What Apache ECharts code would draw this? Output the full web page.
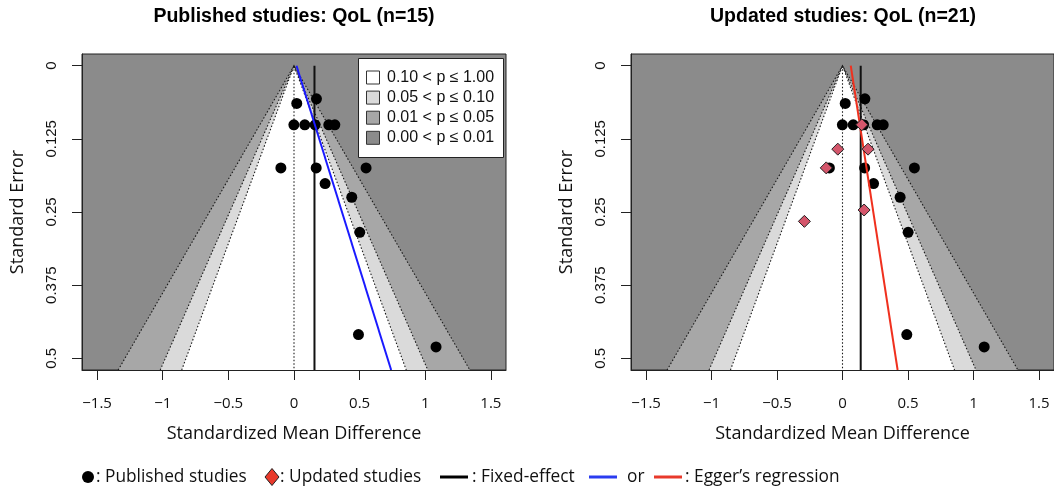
<!DOCTYPE html>
<html><head><meta charset="utf-8">
<script src="https://cdn.jsdelivr.net/npm/echarts@6/dist/echarts.min.js"></script>
<style>html,body{margin:0;padding:0;background:#fff}#c{width:1054px;height:490px}</style>
</head><body><div id="c"></div>
<script>
// ---------------- data ----------------
const publishedSMD = [0.171, 0.021, -0.001, 0.082, 0.161, 0.265, 0.311, -0.100, 0.169, 0.549, 0.237, 0.440, 0.501, 0.491, 1.082];
const publishedSE  = [0.0565, 0.0644, 0.101, 0.101, 0.101, 0.101, 0.101, 0.1746, 0.1746, 0.1746, 0.2014, 0.2248, 0.2848, 0.4594, 0.4805];
const updatedSMD = [0.147, -0.036, 0.195, -0.124, 0.165, -0.291];
const updatedSE  = [0.101, 0.1426, 0.1426, 0.1746, 0.2466, 0.266];
const fixedEffect = [0.156, 0.139];              // published panel, updated panel
const eggerPublished = [[0.019, 0], [0.740, 0.52]];
const eggerUpdated   = [[0.063, 0], [0.421, 0.52]];
const contourZ = [2.576, 1.960, 1.645];           // p = 0.01, 0.05, 0.10 (two-sided)
const contourLabels = ['0.10 < p \u2264 1.00', '0.05 < p \u2264 0.10', '0.01 < p \u2264 0.05', '0.00 < p \u2264 0.01'];
const xTickValues = [-1.5, -1, -0.5, 0, 0.5, 1, 1.5];
const xTickLabels = ['\u22121.5', '\u22121', '\u22120.5', '0', '0.5', '1', '1.5'];
const yTickValues = [0, 0.125, 0.25, 0.375, 0.5];
const yTickLabels = ['0', '0.125', '0.25', '0.375', '0.5'];
const titles = ['Published studies: QoL (n=15)', 'Updated studies: QoL (n=21)'];
const xTitle = 'Standardized Mean Difference';
const yTitle = 'Standard Error';
const legendItems = [': Published studies', ': Updated studies', ': Fixed-effect', 'or', ': Egger\u2019s regression'];

// ---------------- styles / layout ----------------
const X_MIN = -1.615, X_MAX = 1.615, Y_MIN = -0.02, Y_MAX = 0.52;
const BG_DARK = '#8b8b8b';
const contourFill = ['#a7a7a7', '#dadada', '#ffffff'];
const legendFill = ['#ffffff', '#dadada', '#a7a7a7', '#8b8b8b'];
const EGGER_BLUE = '#1a1aff', EGGER_RED = '#f0301e', DIAMOND = '#d4566b';
const sansFont = '"Open Sans", "Liberation Sans", sans-serif';
const helv = '"Liberation Sans", Arial, sans-serif';

function labelFor(values, labels) {
  return v => { for (let i = 0; i < values.length; i++) if (Math.abs(values[i] - v) < 1e-9) return labels[i]; return ''; };
}

const chart = echarts.init(document.getElementById('c'), null, {renderer: 'canvas'});
const grids = [
  {left: 82, top: 54, width: 424, height: 316},
  {left: 631, top: 54, width: 424, height: 316}
];

function xAxisFor(i) {
  return {
    gridIndex: i, type: 'value', min: X_MIN, max: X_MAX, z: 10,
    splitLine: {show: false},
    axisLine: {show: true, onZero: false, lineStyle: {color: '#222', width: 1}},
    axisTick: {show: true, customValues: xTickValues, length: 10, lineStyle: {color: '#222', width: 1}},
    axisLabel: {show: true, customValues: xTickValues, margin: 26, formatter: labelFor(xTickValues, xTickLabels),
      fontFamily: sansFont, fontSize: 15, color: '#111'},
    name: xTitle, nameLocation: 'middle', nameGap: 55,
    nameTextStyle: {fontFamily: sansFont, fontSize: 18, color: '#111'}
  };
}
function yAxisFor(i) {
  return {
    gridIndex: i, type: 'value', inverse: true, min: Y_MIN, max: Y_MAX, z: 10,
    splitLine: {show: false},
    axisLine: {show: true, onZero: false, lineStyle: {color: '#222', width: 1}},
    axisTick: {show: true, customValues: yTickValues, length: 10, lineStyle: {color: '#222', width: 1}},
    axisLabel: {show: true, customValues: yTickValues, rotate: 90, margin: 23, formatter: labelFor(yTickValues, yTickLabels),
      fontFamily: helv, fontSize: 15, color: '#111'},
    name: yTitle, nameLocation: 'middle', nameGap: 55,
    nameTextStyle: {fontFamily: sansFont, fontSize: 18, color: '#111'}
  };
}

function contourSeries(i) {
  return {
    type: 'custom', xAxisIndex: i, yAxisIndex: i, z: 1, silent: true, clip: true,
    data: contourZ.map((z, k) => [z, k]),
    renderItem: (params, api) => {
      const z = api.value(0), k = api.value(1);
      const apex = api.coord([0, 0]);
      const bl = api.coord([-z * Y_MAX, Y_MAX]);
      const br = api.coord([z * Y_MAX, Y_MAX]);
      return {
        type: 'group',
        children: [
          {type: 'polygon', shape: {points: [apex, bl, br]}, style: {fill: contourFill[k], stroke: null}},
          {type: 'polyline', shape: {points: [bl, apex, br]}, z2: 5,
           style: {fill: null, stroke: '#1a1a1a', lineWidth: 1.1, lineDash: [1.5, 2]}}
        ]
      };
    }
  };
}
function centerLine(i) {
  return {
    type: 'line', xAxisIndex: i, yAxisIndex: i, z: 2, silent: true, symbol: 'none',
    data: [[0, 0], [0, Y_MAX]],
    lineStyle: {color: '#1a1a1a', width: 1.1, type: [1.5, 2]}
  };
}
function feLine(i) {
  return {
    type: 'line', xAxisIndex: i, yAxisIndex: i, z: 3, silent: true, symbol: 'none',
    data: [[fixedEffect[i], 0], [fixedEffect[i], Y_MAX]],
    lineStyle: {color: '#111', width: 2}
  };
}
function eggerLine(i, data, color) {
  return {
    type: 'line', xAxisIndex: i, yAxisIndex: i, z: 5, silent: true, symbol: 'none',
    data: data, lineStyle: {color: color, width: 2}
  };
}
function dots(i) {
  return {
    type: 'scatter', xAxisIndex: i, yAxisIndex: i, z: 4, silent: true,
    symbol: 'circle', symbolSize: 11,
    data: publishedSMD.map((v, k) => [v, publishedSE[k]]),
    itemStyle: {color: '#000', opacity: 1}
  };
}

// in-plot legend (left panel)
const legendGraphics = [];
legendGraphics.push({type: 'rect', shape: {x: 358.5, y: 58.5, width: 145, height: 99},
  style: {fill: '#fff', stroke: '#222', lineWidth: 1}, z: 100});
contourLabels.forEach((t, k) => {
  const cy = 77.5 + k * 20.1;
  legendGraphics.push({type: 'rect', shape: {x: 366.5, y: cy - 6.5, width: 13, height: 13},
    style: {fill: legendFill[k], stroke: '#333', lineWidth: 1}, z: 101});
  legendGraphics.push({type: 'text', x: 387, y: cy, z: 101,
    style: {text: t, fontFamily: helv, fontSize: 16, fill: '#111', verticalAlign: 'middle', align: 'left'}});
});

// titles
const titleGraphics = titles.map((t, i) => ({
  type: 'text', x: i === 0 ? 294 : 843, y: 17, z: 100,
  style: {text: t, fontFamily: helv, fontWeight: 'bold', fontSize: 19.5, fill: '#000', align: 'center', verticalAlign: 'middle'}
}));

// bottom legend
const LY = 477;
const LF = 17.3;
const bottomGraphics = [
  {type: 'circle', shape: {cx: 88, cy: LY, r: 6}, style: {fill: '#000'}},
  {type: 'text', x: 96, y: LY, style: {text: legendItems[0], fontFamily: sansFont, fontSize: LF, fill: '#111', verticalAlign: 'middle'}},
  {type: 'polygon', shape: {points: [[272, LY - 8.5], [279, LY], [272, LY + 8.5], [265, LY]]}, style: {fill: '#e8392b', stroke: '#222', lineWidth: 1}},
  {type: 'text', x: 280, y: LY, style: {text: legendItems[1], fontFamily: sansFont, fontSize: LF, fill: '#111', verticalAlign: 'middle'}},
  {type: 'rect', shape: {x: 440, y: LY - 1.5, width: 28, height: 3}, style: {fill: '#000'}},
  {type: 'text', x: 472, y: LY, style: {text: legendItems[2], fontFamily: sansFont, fontSize: LF, fill: '#111', verticalAlign: 'middle'}},
  {type: 'rect', shape: {x: 589, y: LY - 1.5, width: 28, height: 3}, style: {fill: '#2a3cf0'}},
  {type: 'text', x: 627, y: LY, style: {text: legendItems[3], fontFamily: sansFont, fontSize: LF, fill: '#111', verticalAlign: 'middle'}},
  {type: 'rect', shape: {x: 654, y: LY - 1.5, width: 28, height: 3}, style: {fill: '#e8392b'}},
  {type: 'text', x: 685, y: LY, style: {text: legendItems[4], fontFamily: sansFont, fontSize: LF, fill: '#111', verticalAlign: 'middle'}}
];

const option = {
  backgroundColor: '#fff',
  animation: false,
  grid: grids.map(g => Object.assign({show: true, backgroundColor: BG_DARK, borderColor: '#222', borderWidth: 1}, g)),
  xAxis: [xAxisFor(0), xAxisFor(1)],
  yAxis: [yAxisFor(0), yAxisFor(1)],
  series: [
    contourSeries(0), centerLine(0), feLine(0), dots(0), eggerLine(0, eggerPublished, EGGER_BLUE),
    contourSeries(1), centerLine(1), feLine(1), dots(1), eggerLine(1, eggerUpdated, EGGER_RED),
    {
      type: 'scatter', xAxisIndex: 1, yAxisIndex: 1, z: 6, silent: true,
      symbol: 'diamond', symbolSize: [12, 12],
      data: updatedSMD.map((v, k) => [v, updatedSE[k]]),
      itemStyle: {color: DIAMOND, borderColor: '#222', borderWidth: 1, opacity: 1}
    }
  ],
  graphic: [].concat(titleGraphics, legendGraphics, bottomGraphics)
};
chart.setOption(option);
</script>
</body></html>
